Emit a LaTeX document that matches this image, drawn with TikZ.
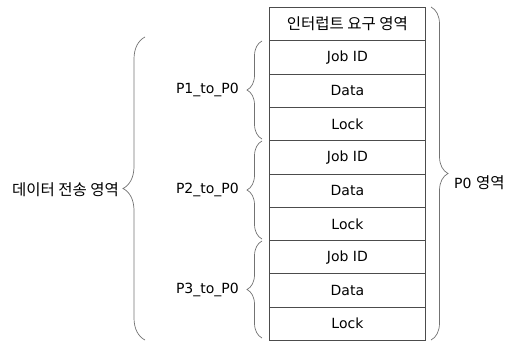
\documentclass[tikz,border=0pt]{standalone}
\usepackage{fontspec}
\setmainfont{DejaVu Sans}
\newfontfamily\kor{Noto Sans CJK KR}
\newcommand{\korbig}{\kor\fontsize{15.5}{17}\selectfont}
\usetikzlibrary{decorations.pathreplacing}
\begin{document}
\begin{tikzpicture}[x=1pt,y=-1pt,
  cell/.style={draw=black!70,line width=0.8pt,minimum width=156pt,minimum height=33.3pt,inner sep=0pt,anchor=north west,font=\fontsize{14}{16}\selectfont},
  brc/.style={draw=black!55,line width=0.7pt,decorate,decoration={brace,amplitude=#1}},
  lbl/.style={font=\fontsize{14}{16}\selectfont,inner sep=0pt}]
\useasboundingbox (0,0) rectangle (508,343);
\node[cell] (r0) at (269,7) {\korbig 인터럽트 요구 영역};
\node[cell] (r1) at (269,40.3) {Job ID};
\node[cell] (r2) at (269,73.6) {Data};
\node[cell] (r3) at (269,106.9) {Lock};
\node[cell] (r4) at (269,140.2) {Job ID};
\node[cell] (r5) at (269,173.5) {Data};
\node[cell] (r6) at (269,206.8) {Lock};
\node[cell] (r7) at (269,240.1) {Job ID};
\node[cell] (r8) at (269,273.4) {Data};
\node[cell] (r9) at (269,306.7) {Lock};
% braces
\coordinate (b1s) at (262,139);
\coordinate (b1e) at (262,41);
\coordinate (b2s) at (262,239);
\coordinate (b2e) at (262,141);
\coordinate (b3s) at (262,338);
\coordinate (b3e) at (262,241);
\draw[brc=15pt] (b1s) -- (b1e);
\draw[brc=15pt] (b2s) -- (b2e);
\draw[brc=15pt] (b3s) -- (b3e);
\coordinate (bLs) at (145,340);
\coordinate (bLe) at (145,37);
\draw[brc=22pt] (bLs) -- (bLe);
\coordinate (bRs) at (431,7);
\coordinate (bRe) at (431,340);
\draw[brc=17pt] (bRs) -- (bRe);
\node[lbl,anchor=east] (p1) at (239,90) {P1\_to\_P0};
\node[lbl,anchor=east] (p2) at (239,190) {P2\_to\_P0};
\node[lbl,anchor=east] (p3) at (239,290) {P3\_to\_P0};
\node[lbl,anchor=east] (dl) at (119,190) {\korbig 데이터 전송 영역};
\node[lbl,anchor=west] (p0) at (454,183) {P0 {\korbig 영역}};
\end{tikzpicture}
\end{document}
